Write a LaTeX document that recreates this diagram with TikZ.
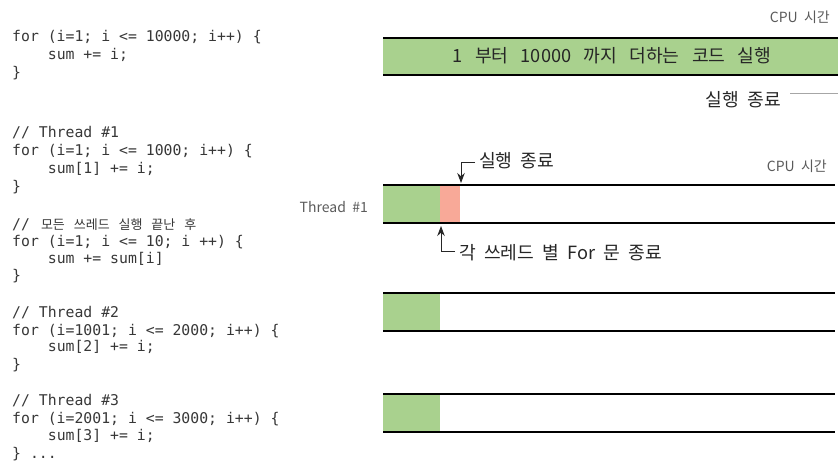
\documentclass[tikz,border=0pt]{standalone}
\usepackage{fontspec}
\usetikzlibrary{arrows.meta}
\newfontfamily\codefont{DejaVu Sans Mono}
\newfontfamily\krcode{Noto Sans CJK KR}
\newfontfamily\kr[WordSpace=2.4]{Noto Sans CJK KR}
\newfontfamily\krsmall[WordSpace=2.0]{Noto Sans CJK KR}
\newcommand{\K}[1]{{\krcode\fontsize{13pt}{13pt}\selectfont #1}}
\newcommand{\ws}{\hspace{12.3pt}}
\definecolor{barGreen}{RGB}{169,209,142}
\definecolor{barRed}{RGB}{248,169,152}
\definecolor{codeGray}{RGB}{55,55,55}
\definecolor{lblGray}{RGB}{90,90,90}
\tikzset{
  codeline/.style={anchor=base west, inner sep=0pt, text=codeGray,
    font=\codefont\fontsize{14.8pt}{16pt}\selectfont},
  smalllbl/.style={inner sep=0pt, text=lblGray, font=\krsmall\fontsize{14pt}{16pt}\selectfont},
  biglbl/.style={inner sep=0pt, text=black!85, font=\kr\fontsize{18.2pt}{20pt}\selectfont},
  barline/.style={line width=2.4pt, black},
  arr/.style={line width=0.9pt, black!85, -{Stealth[length=10pt,width=7.5pt]}},
}
\begin{document}
\begin{tikzpicture}[x=1pt,y=-1pt]
\useasboundingbox (0,0) rectangle (838,462);

% ---------- code ----------
\node[codeline] (c1) at (12,42) {for (i=1; i <= 10000; i++) \{};
\node[codeline] (c2) at (12,60) {\ \ \ \ sum += i;};
\node[codeline] (c3) at (12,78) {\}};

\node[codeline] (d1) at (12,138) {// Thread \#1};
\node[codeline] (d2) at (12,156) {for (i=1; i <= 1000; i++) \{};
\node[codeline] (d3) at (12,174) {\ \ \ \ sum[1] += i;};
\node[codeline] (d4) at (12,192) {\}};

\node[codeline] (e1) at (12,230) {//\hspace{11pt}\K{모든} \K{쓰레드} \K{실행} \K{끝난} \K{후}};
\node[codeline] (e2) at (12,247) {for (i=1; i <= 10; i ++) \{};
\node[codeline] (e3) at (12,264) {\ \ \ \ sum += sum[i]};
\node[codeline] (e4) at (12,281) {\}};

\node[codeline] (f1) at (12,317) {// Thread \#2};
\node[codeline] (f2) at (12,335) {for (i=1001; i <= 2000; i++) \{};
\node[codeline] (f3) at (12,352) {\ \ \ \ sum[2] += i;};
\node[codeline] (f4) at (12,370) {\}};

\node[codeline] (g1) at (12,405) {// Thread \#3};
\node[codeline] (g2) at (12,423) {for (i=2001; i <= 3000; i++) \{};
\node[codeline] (g3) at (12,440) {\ \ \ \ sum[3] += i;};
\node[codeline] (g4) at (12,458) {\} ...};

% ---------- top bar ----------
\fill[barGreen] (383,38) rectangle (838,75);
\draw[barline] (383,38) -- (838,38);
\draw[barline] (383,75) -- (838,75);
\node[biglbl] (sumtxt) at (612,56) {1\ws 부터\ws 10000\ws 까지\ws 더하는\ws 코드\ws 실행};
\node[smalllbl, anchor=east] (cpu1) at (830,17) {CPU 시간};
\node[biglbl, anchor=east] (end1) at (781,100) {실행 종료};
\coordinate (end1r) at (838,94);
\draw[gray!70, line width=1pt] ([xshift=9pt,yshift=6pt]end1.east) -- (end1r);

% ---------- thread #1 ----------
\fill[barGreen] (383,185) rectangle (440,223);
\fill[barRed] (440,185) rectangle (460,223);
\draw[barline] (383,185) -- (835,185);
\draw[barline] (383,223) -- (835,223);
\node[smalllbl, anchor=east] (th1) at (368,207) {Thread \#1};
\node[smalllbl, anchor=east] (cpu2) at (827,166) {CPU 시간};

\node[biglbl, anchor=west] (end2) at (479,161) {실행 종료};
\coordinate (tip2) at (461,183);
\draw[arr] ([xshift=-4pt,yshift=-1pt]end2.west) -| (tip2);

\node[biglbl, anchor=west] (forend) at (459,253) {각 쓰레드 별 For 문 종료};
\coordinate (tip3) at (441,226);
\draw[arr] ([xshift=-4pt,yshift=2pt]forend.west) -| (tip3);

% ---------- thread #2 ----------
\fill[barGreen] (383,293) rectangle (440,331);
\draw[barline] (383,293) -- (835,293);
\draw[barline] (383,331) -- (835,331);

% ---------- thread #3 ----------
\fill[barGreen] (383,394) rectangle (440,432);
\draw[barline] (383,394) -- (835,394);
\draw[barline] (383,432) -- (835,432);
\end{tikzpicture}
\end{document}
